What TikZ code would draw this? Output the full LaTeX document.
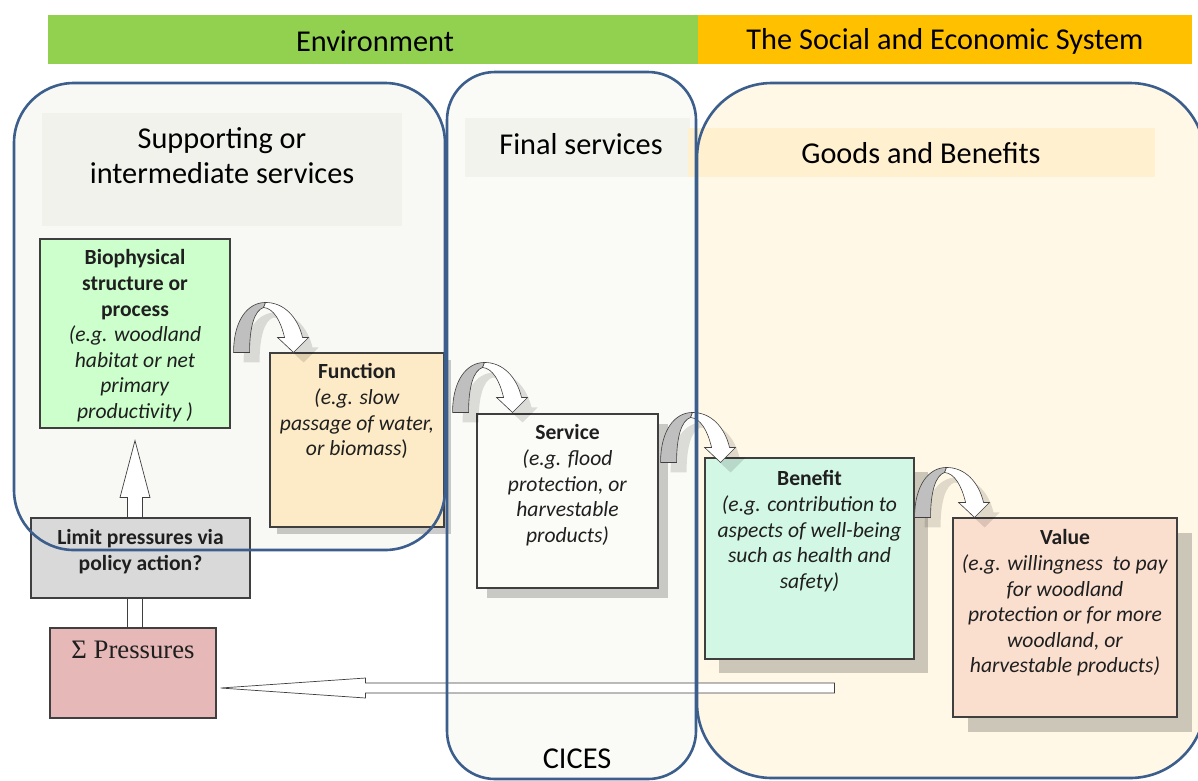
\documentclass[tikz,border=0pt]{standalone}
\usepackage{fontspec}
\setmainfont{Carlito}
\newfontfamily\serifface{Liberation Serif}
\usetikzlibrary{calc,shadows}
\definecolor{envgreen}{HTML}{92D050}
\definecolor{socorange}{HTML}{FFC000}
\definecolor{frameblue}{HTML}{3B5E8C}
\definecolor{leftfill}{HTML}{F8F8F4}
\definecolor{leftband}{HTML}{F2F2EC}
\definecolor{midfill}{HTML}{FAFAF7}
\definecolor{midband}{HTML}{F3F3EE}
\definecolor{rightfill}{HTML}{FFF8E6}
\definecolor{rightband}{HTML}{FFF1CF}
\definecolor{biofill}{HTML}{CCFFCC}
\definecolor{funcfill}{HTML}{FCEBC6}
\definecolor{servfill}{HTML}{FBFBF8}
\definecolor{benfill}{HTML}{D2F7E5}
\definecolor{valfill}{HTML}{FADFCF}
\definecolor{limfill}{HTML}{D9D9D9}
\definecolor{presfill}{HTML}{E6B8B7}
\definecolor{edgec}{HTML}{3F3F3F}
\definecolor{txt}{HTML}{1F1F1F}
\definecolor{arrowgray}{HTML}{BFBFBF}
\newcommand{\carrow}[1]{%
  \begin{scope}[shift={#1}]
    \fill[black,opacity=0.12] (10,10) .. controls (10,-22) and (24,-40) .. (42,-40)
      .. controls (60,-40) and (74,-26) .. (79,-5) -- (85,-5) -- (70,10) -- (54,-5) -- (60,-5)
      .. controls (57,-22) and (50,-34) .. (40,-35) .. controls (31,-32) and (26,-16) .. (26,10) -- cycle;
    \filldraw[fill=arrowgray,draw=edgec,line width=0.6pt] (0,0) .. controls (0,-32) and (14,-50) .. (32,-50)
      -- (30,-45) .. controls (21,-42) and (16,-26) .. (16,0) -- cycle;
    \filldraw[fill=white,draw=edgec,line width=0.6pt] (32,-50) .. controls (50,-50) and (64,-36) .. (69,-15)
      -- (75,-15) -- (60,0) -- (44,-15) -- (51,-15) .. controls (47,-32) and (40,-44) .. (30,-45) -- cycle;
  \end{scope}}
\begin{document}
\begin{tikzpicture}[x=1pt,y=-1pt,
  box/.style={draw=edgec,line width=1.1pt,inner sep=0pt},
  boxtext/.style={anchor=north,align=center,inner sep=0pt,text=txt,font=\fontsize{21.6}{25.6}\selectfont},
  headtext/.style={align=center,inner sep=0pt,text=black,font=\fontsize{30.3}{35}\selectfont},
  frame/.style={draw=frameblue,line width=2.6pt},
  blockarrow/.style={fill=white,draw=edgec,line width=0.7pt},
  shade/.style={drop shadow={shadow xshift=#1pt,shadow yshift=-#1pt,opacity=0.2,fill=black}}]
\useasboundingbox (0,0) rectangle (1198,780);
\fill[white] (0,0) rectangle (1198,780);
% top bars
\fill[envgreen] (48,15) rectangle (698,64);
\fill[socorange] (698,15) rectangle (1192,64);
\node[headtext] (env) at (375,41) {Environment};
\node[headtext] (soc) at (945,41) {The Social and Economic System};
% frame fills
\fill[leftfill,rounded corners=60] (14,83) rectangle (445,550);
\fill[midfill,rounded corners=48] (447,72) rectangle (696,779);
\fill[rightfill,rounded corners=75] (697,83) rectangle (1205,778);
% header bands
\fill[leftband] (42,113) rectangle (402,226);
\fill[midband] (465,118) rectangle (690,177);
\fill[rightband] (688,128) rectangle (1155,177);
\node[headtext] (sup) at (222,156) {Supporting or\\intermediate services};
\node[headtext] (fin) at (581,144) {Final services};
\node[headtext] (goods) at (921,153) {Goods and Benefits};
% boxes
\node[box,fill=biofill,minimum width=190pt,minimum height=189pt] (bio) at (135,333.5) {};
\node[box,fill=funcfill,shade=7,minimum width=174pt,minimum height=174pt] (func) at (357,440) {};
\node[box,fill=servfill,shade=10,minimum width=181pt,minimum height=174pt] (serv) at (567.5,501) {};
\node[box,fill=benfill,shade=14,minimum width=209pt,minimum height=201pt] (ben) at (809.5,558.5) {};
\node[box,fill=valfill,shade=15,minimum width=224pt,minimum height=199pt] (val) at (1065,617.5) {};
\node[box,fill=limfill,minimum width=219pt,minimum height=80pt] (lim) at (140.5,558) {};
\node[box,fill=presfill,minimum width=166pt,minimum height=90pt] (pres) at (133,673) {};
% box texts
\node[boxtext] (biot) at ($(bio.north)+(0,11)$) {\textbf{Biophysical}\\\textbf{structure or}\\\textbf{process}\\\textit{(e.g. woodland}\\\textit{habitat or net}\\\textit{primary}\\\textit{productivity )}};
\node[boxtext] (funct) at ($(func.north)+(0,11)$) {\textbf{Function}\\\textit{(e.g. slow}\\\textit{passage of water,}\\\textit{or biomass})};
\node[boxtext] (servt) at ($(serv.north)+(0,11)$) {\textbf{Service}\\\textit{(e.g. flood}\\\textit{protection, or}\\\textit{harvestable}\\\textit{products)}};
\node[boxtext] (bent) at ($(ben.north)+(0,13)$) {\textbf{Benefit}\\\textit{(e.g. contribution to}\\\textit{aspects of well-being}\\\textit{such as health and}\\\textit{safety)}};
\node[boxtext] (valt) at ($(val.north)+(0,12)$) {\textbf{Value}\\\textit{(e.g. willingness~ to pay}\\\textit{for woodland}\\\textit{protection or for more}\\\textit{woodland, or}\\\textit{harvestable products)}};
\node[boxtext] (limt) at ($(lim.north)+(0,12)$) {\textbf{Limit pressures via}\\\textbf{policy action?}};
\node[boxtext,font=\serifface\fontsize{26.7}{30}\selectfont] (prest) at ($(pres.north)+(0,13)$) {Σ Pressures};
% curved arrows
\carrow{($(bio.east |- func.north)+(3,0)$)}
\carrow{($(func.east |- serv.north)+(8,-1)$)}
\carrow{($(serv.east |- ben.north)+(2,5)$)}
\carrow{($(ben.east |- val.north)+(0,0)$)}
% up arrow and connector
\coordinate (utip) at ($(bio.south)+(0,12)$);
\coordinate (ubase) at (utip |- lim.north);
\draw[blockarrow] ($(ubase)+(-7.5,0)$) -- ($(utip)+(-7.5,57)$) -- ($(utip)+(-15,57)$) -- (utip)
  -- ($(utip)+(15,57)$) -- ($(utip)+(7.5,57)$) -- ($(ubase)+(7.5,0)$) -- cycle;
\draw[blockarrow] ($(utip |- lim.south)+(-7.5,0)$) rectangle ($(utip |- pres.north)+(7.5,0)$);
% long arrow back to pressures
\coordinate (ptip) at ($(pres.east)+(4,15)$);
\coordinate (pend) at ($(ptip)+(614,0)$);
\draw[blockarrow] ($(pend)+(0,-5)$) -- ($(ptip)+(145,-5)$) -- ($(ptip)+(145,-10)$) -- (ptip)
  -- ($(ptip)+(145,10)$) -- ($(ptip)+(145,5)$) -- ($(pend)+(0,5)$) -- cycle;
% frame outlines
\draw[frame,rounded corners=60] (14,83) rectangle (445,550);
\draw[frame,rounded corners=48] (447,72) rectangle (696,779);
\draw[frame,rounded corners=75] (697,83) rectangle (1205,778);
\node[headtext] (cices) at (577,759) {CICES};
\end{tikzpicture}
\end{document}
